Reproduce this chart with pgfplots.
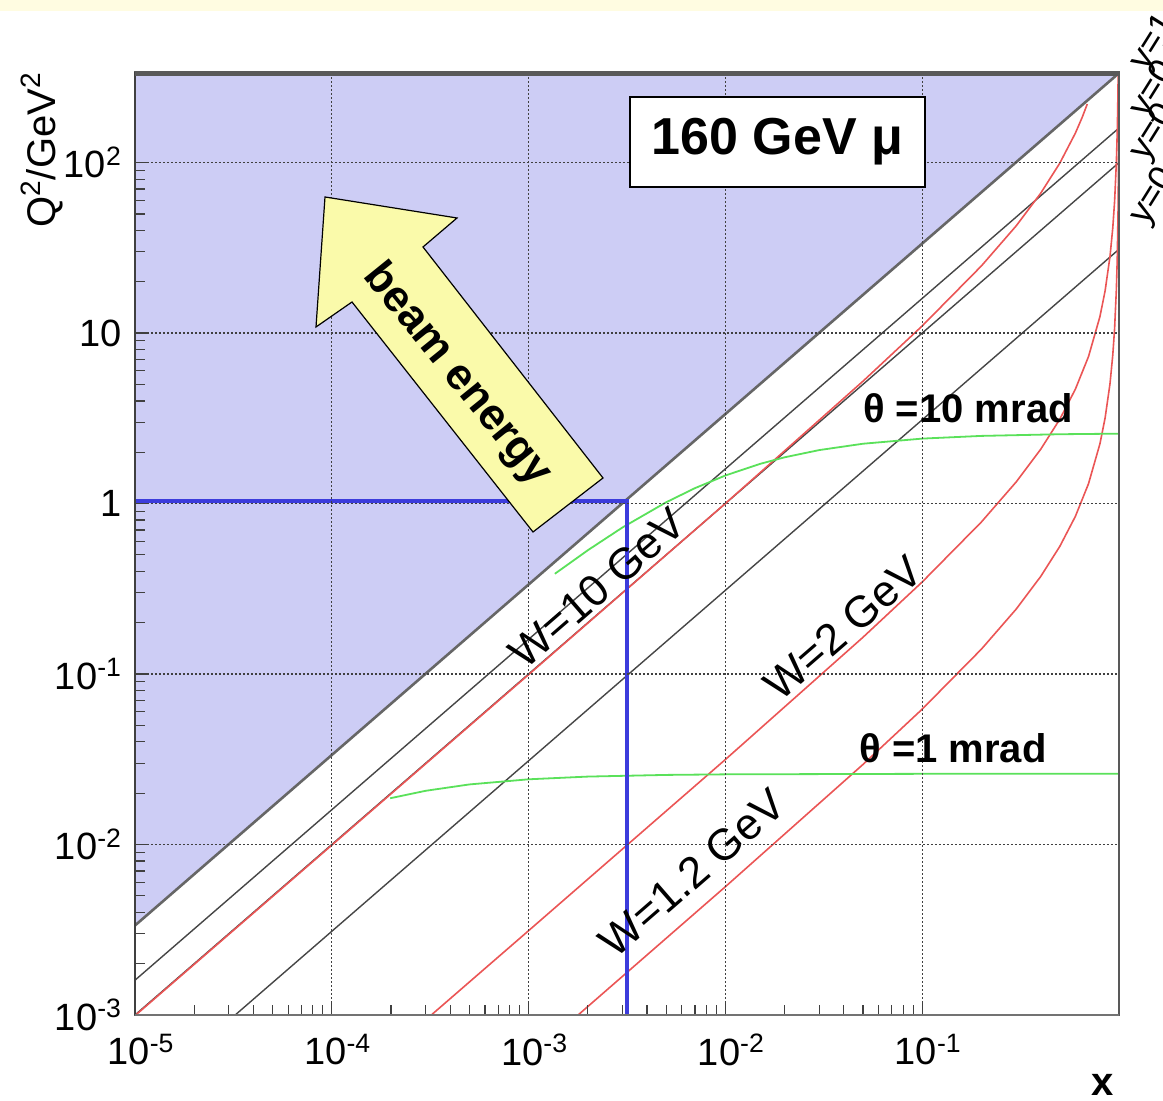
\documentclass[border=0pt]{standalone}
\usepackage{fontspec}
\setmainfont{Liberation Sans}
\usepackage{pgfplots}
\pgfplotsset{compat=1.18}
\definecolor{shade}{RGB}{205,205,245}
\definecolor{wred}{RGB}{235,85,85}
\definecolor{tgreen}{RGB}{90,225,90}
\definecolor{bblue}{RGB}{60,60,220}
\definecolor{arrowy}{RGB}{250,250,170}
\definecolor{rim}{RGB}{255,252,225}
\definecolor{ygrey}{RGB}{70,70,70}
\begin{document}
\begin{tikzpicture}[x=1pt,y=1pt]
\fill[white] (-67.5,-43) rectangle (514,507.5);
\fill[rim] (-67.5,502) rectangle (514,507.5);
\begin{axis}[
  scale only axis, width=492pt, height=471.5pt, at={(0,0)}, anchor=south west,
  xmode=log, ymode=log, xmin=1e-5, xmax=1, ymin=1e-3, ymax=340,
  axis on top, tick pos=left, tick align=inside,
  xtick={1e-5,1e-4,1e-3,1e-2,1e-1},
  xticklabels={10\textsuperscript{-5},10\textsuperscript{-4},10\textsuperscript{-3},10\textsuperscript{-2},10\textsuperscript{-1}},
  ytick={1e-3,1e-2,1e-1,1,10,100},
  yticklabels={10\textsuperscript{-3},10\textsuperscript{-2},10\textsuperscript{-1},1,10,10\textsuperscript{2}},
  grid=major,
  major grid style={black!75, line width=0.6pt, dash pattern=on 1pt off 1pt},
  minor tick length=5pt, major tick length=6pt,
  every tick/.style={black!75, line width=0.6pt},
  axis line style={black!65, line width=0.8pt},
  ticklabel style={font=\fontsize{19}{21}\selectfont},
  xticklabel style={yshift=-6pt, xshift=3pt},
  yticklabel style={xshift=-3pt},
  clip=true,
]
% shaded kinematically forbidden region
\addplot[fill=shade, draw=none] coordinates {(1e-5,3.35e-3) (1,335) (1,340) (1e-5,340) (1e-5,3.35e-3)};
% lines of constant y
\addplot[black!60, line width=1.3pt] coordinates {(1e-5,3.35e-3) (1,335)};
\addplot[ygrey, line width=0.7pt] coordinates {(1e-5,1.6e-3) (0.99,158)};
\addplot[ygrey, line width=0.7pt] coordinates {(1e-5,1.0e-3) (0.99,99)};
\addplot[ygrey, line width=0.7pt] coordinates {(3.23e-5,1e-3) (0.99,30.7)};
% W = 10 GeV
\addplot[wred, line width=0.8pt] coordinates {(1e-5,9.91e-4) (1e-4,9.913e-3) (1e-3,0.09922) (1e-2,1.0012) (0.05,5.217) (0.1,11.01) (0.2,24.78) (0.3,42.48) (0.4,66.08) (0.5,99.12) (0.6,148.7) (0.65,184.1) (0.69,220.6)};
% W = 2 GeV
\addplot[wred, line width=0.8pt] coordinates {(3.205e-4,1.0e-3) (1e-3,3.123e-3) (1e-2,0.03152) (0.05,0.1642) (0.1,0.3467) (0.2,0.78) (0.3,1.337) (0.4,2.08) (0.5,3.12) (0.6,4.68) (0.7,7.28) (0.8,12.48) (0.85,17.68) (0.9,28.08) (0.93,41.45) (0.95,59.28) (0.97,100.9) (0.98,152.9) (0.985,204.9) (0.9909,339.7)};
% W = 1.2 GeV
\addplot[wred, line width=0.8pt] coordinates {(1.785e-3,1.0e-3) (1e-2,5.657e-3) (0.05,0.02947) (0.1,0.06222) (0.2,0.14) (0.3,0.24) (0.4,0.3733) (0.5,0.56) (0.6,0.84) (0.7,1.3067) (0.8,2.24) (0.85,3.173) (0.9,5.04) (0.93,7.44) (0.95,10.64) (0.97,18.11) (0.98,27.44) (0.99,55.44) (0.995,111.4) (0.997,186.1) (0.9984,349.4)};
% theta = 1 mrad
\addplot[tgreen, line width=0.9pt] coordinates {(1.98e-4,0.01868) (3e-4,0.02066) (5e-4,0.02251) (1e-3,0.02413) (2e-3,0.02503) (5e-3,0.02560) (1e-2,0.02580) (0.1,0.02598) (1,0.026)};
% theta = 10 mrad
\addplot[tgreen, line width=0.9pt] coordinates {(1.36e-3,0.3874) (2e-3,0.5323) (3e-3,0.7241) (5e-3,1.0173) (7e-3,1.2308) (1e-2,1.4607) (1.5e-2,1.7091) (2e-2,1.8679) (3e-2,2.0593) (5e-2,2.2432) (0.1,2.4041) (0.2,2.4936) (0.5,2.5505) (1,2.5701)};
% blue cut lines
\addplot[bblue, line width=2pt] coordinates {(1e-5,1.04) (3.16e-3,1.04) (3.16e-3,9e-4)};
\end{axis}
% frame emphasis
\draw[black!75, line width=1.4pt] (0,0) -- (0,471.5);
\draw[black!65, line width=2pt] (0,470.5) -- (492,470.5);
\draw[black!55, line width=1pt] (0,0) -- (492,0);
% beam energy arrow
\draw[fill=arrowy, draw=black, line width=0.6pt] (95,409) -- (161,398.5) -- (144,384) -- (234,268.5) -- (199,241.5) -- (108.5,356.5) -- (90.5,344) -- cycle;
\node[rotate=-51, font=\fontsize{22}{24}\selectfont\bfseries] at (161,320) {beam energy};
% energy box
\draw[fill=white, draw=black, line width=1pt] (247.5,414) rectangle (395,459);
\node[font=\fontsize{26}{28}\selectfont\bfseries] at (321.25,436.5) {160 GeV μ};
% W labels
\node[rotate=41, font=\fontsize{22}{24}\selectfont] at (231,213.5) {W=10 GeV};
\node[rotate=41, font=\fontsize{22}{24}\selectfont] at (354,193.5) {W=2 GeV};
\node[rotate=41, font=\fontsize{22}{24}\selectfont] at (278.5,71) {W=1.2 GeV};
% theta labels
\node[font=\fontsize{20}{22}\selectfont\bfseries] at (416.5,303.5) {θ =10 mrad};
\node[font=\fontsize{20}{22}\selectfont\bfseries] at (409,133.5) {θ =1 mrad};
% axis titles
\node[rotate=90, font=\fontsize{20}{22}\selectfont] at (-46.5,432.5) {Q\textsuperscript{2}/GeV\textsuperscript{2}};
\node[font=\fontsize{20}{22}\selectfont\bfseries] at (484,-35) {x};
% y labels on the right (clipped by the page)
\node[rotate=58, anchor=base west, inner sep=0pt, font=\fontsize{18}{20}\selectfont] at (505.5,471) {y=1};
\node[rotate=58, anchor=base west, inner sep=0pt, font=\fontsize{18}{20}\selectfont] at (505.5,447.5) {y=0.5};
\node[rotate=58, anchor=base west, inner sep=0pt, font=\fontsize{18}{20}\selectfont] at (505.5,426) {y=0.3};
\node[rotate=58, anchor=base west, inner sep=0pt, font=\fontsize{18}{20}\selectfont] at (505.5,394) {y=0.1};
\pgfresetboundingbox
\useasboundingbox (-67.5,-43) rectangle (514,507.5);
\end{tikzpicture}
\end{document}
